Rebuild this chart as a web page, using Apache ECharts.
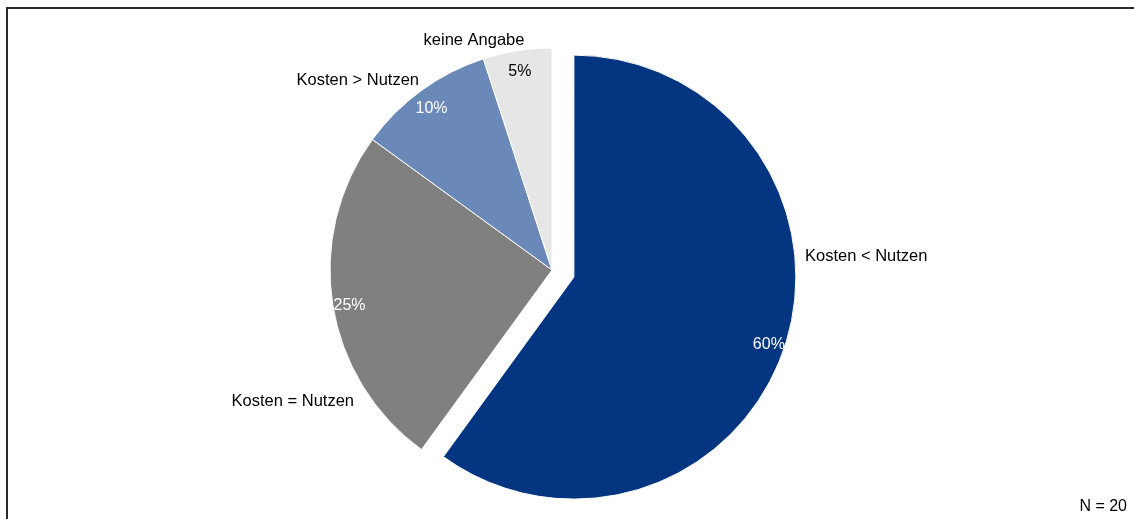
<!DOCTYPE html>
<html>
<head>
<meta charset="utf-8">
<script src="https://cdn.jsdelivr.net/npm/echarts@6/dist/echarts.min.js"></script>
<style>
  html, body { margin: 0; padding: 0; background: #fff; }
  #chart { width: 1134px; height: 519px; }
</style>
</head>
<body>
<div id="chart"></div>
<script>
// Answers on cost vs. benefit (share of respondents, %)
const categories = ['Kosten < Nutzen', 'Kosten = Nutzen', 'Kosten > Nutzen', 'keine Angabe'];
const shares = [60, 25, 10, 5];
const sampleNote = 'N = 20';

// Styling per slice
const sliceColors = ['#033580', '#808080', '#6a88b8', '#e6e6e6'];
const shareTextColors = ['#ffffff', '#ffffff', '#ffffff', '#000000'];
const explodedIndex = 0;

// Pie geometry (pixels)
const CENTER = [552, 270];
const RADIUS = 222;
const EXPLODE = 23;

// Name label anchors, relative to the pie centre
const namePlacement = [
  { dx: 253, dy: -14, align: 'left' },
  { dx: -198, dy: 131, align: 'right' },
  { dx: -133, dy: -190, align: 'right' },
  { dx: -78, dy: -230, align: 'center' }
];

const FONT = '"Liberation Sans", Arial, Helvetica, sans-serif';

const base = {
  type: 'pie',
  center: CENTER,
  startAngle: 90,
  clockwise: true,
  avoidLabelOverlap: false,
  emphasis: { disabled: true },
  labelLine: { show: false }
};

const chart = echarts.init(document.getElementById('chart'), null, { renderer: 'canvas' });

chart.setOption({
  animation: false,
  backgroundColor: '#ffffff',
  graphic: [
    {
      type: 'rect',
      shape: { x: 7, y: 8, width: 1200, height: 600 },
      style: { fill: 'none', stroke: '#2b2b2b', lineWidth: 2 },
      silent: true
    },
    {
      type: 'text',
      right: 7,
      top: 499,
      style: { text: sampleNote, font: '16px ' + FONT, fill: '#000' },
      silent: true
    }
  ],
  series: [
    Object.assign({}, base, {
      // the slices, first one pulled out
      radius: [0, RADIUS],
      selectedMode: 'single',
      selectedOffset: EXPLODE,
      itemStyle: { borderColor: '#ffffff', borderWidth: 1 },
      select: { itemStyle: { borderColor: '#ffffff', borderWidth: 1 } },
      label: { show: false },
      data: categories.map((name, i) => ({
        name,
        value: shares[i],
        selected: i === explodedIndex,
        itemStyle: { color: sliceColors[i] }
      }))
    }),
    Object.assign({}, base, {
      // transparent rim ring carrying the share labels
      radius: [182, RADIUS],
      selectedMode: 'single',
      selectedOffset: EXPLODE,
      silent: true,
      itemStyle: { color: 'rgba(0,0,0,0)', borderWidth: 0 },
      select: {
        itemStyle: { color: 'rgba(0,0,0,0)', borderWidth: 0 },
        label: { offset: [0, 4] }
      },
      label: {
        show: true,
        position: 'inside',
        formatter: '{c}%',
        fontSize: 16,
        fontFamily: FONT,
        offset: [0, 4]
      },
      data: categories.map((name, i) => ({
        name,
        value: shares[i],
        selected: i === explodedIndex,
        label: { color: shareTextColors[i] }
      }))
    }),
    Object.assign({}, base, {
      // transparent layer carrying the category names
      radius: [0, RADIUS],
      silent: true,
      itemStyle: { color: 'rgba(0,0,0,0)', borderWidth: 0 },
      label: {
        show: true,
        position: 'outside',
        formatter: '{b}',
        color: '#000',
        fontSize: 16.5,
        fontFamily: FONT
      },
      labelLayout: function (p) {
        const pl = namePlacement[p.dataIndex];
        return {
          x: CENTER[0] + pl.dx,
          y: CENTER[1] + pl.dy,
          align: pl.align,
          verticalAlign: 'middle'
        };
      },
      data: categories.map((name, i) => ({ name, value: shares[i] }))
    })
  ]
});
</script>
</body>
</html>
